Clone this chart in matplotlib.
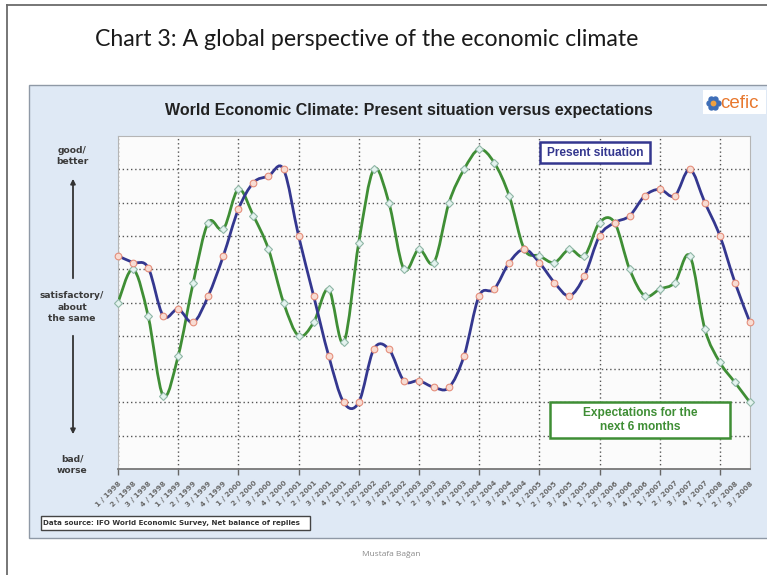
import matplotlib
matplotlib.use('Agg')
import matplotlib.pyplot as plt
import numpy as np
from matplotlib.path import Path
from matplotlib.patches import PathPatch, Rectangle, FancyArrowPatch
from matplotlib.lines import Line2D

W, H = 767, 575

# ---------------- data ----------------
years = [1998, 1999, 2000, 2001, 2002, 2003, 2004, 2005, 2006, 2007, 2008]
quarters = [1, 2, 3, 4]
quarter_labels = [f"{q} / {y}" for y in years for q in quarters][:43]

present_situation = [6.4, 6.2, 6.05, 4.6, 4.8, 4.4, 5.2, 6.4, 7.8, 8.6, 8.8, 9.0,
                     7.0, 5.2, 3.4, 2.0, 2.0, 3.6, 3.6, 2.65, 2.65, 2.45, 2.45,
                     3.4, 5.2, 5.4, 6.2, 6.6, 6.2, 5.6, 5.2, 5.8, 7.0, 7.4, 7.6,
                     8.2, 8.4, 8.2, 9.0, 8.0, 7.0, 5.6, 4.4]
expectations = [5.0, 6.0, 4.6, 2.2, 3.4, 5.6, 7.4, 7.2, 8.4, 7.6, 6.6, 5.0,
                4.0, 4.4, 5.4, 3.8, 6.8, 9.0, 8.0, 6.0, 6.6, 6.2, 8.0, 9.0,
                9.6, 9.2, 8.2, 6.6, 6.4, 6.2, 6.6, 6.4, 7.4, 7.4, 6.0, 5.2,
                5.4, 5.6, 6.4, 4.2, 3.2, 2.6, 2.0]

title_text = "Chart 3: A global perspective of the economic climate"
chart_title = "World Economic Climate: Present situation versus expectations"
legend_present = "Present situation"
legend_expect = "Expectations for the\nnext 6 months"
source_text = "Data source: IFO World Economic Survey, Net balance of replies"
author_text = "Mustafa Bağan"

# ---------------- helpers ----------------
def fx(x):
    return x / W

def fy(y):
    return 1 - y / H

def smooth_path(xs, ys):
    P = np.column_stack([xs, ys]).astype(float)
    n = len(P)
    verts = [P[0]]
    codes = [Path.MOVETO]
    for i in range(n - 1):
        p0 = P[i - 1] if i > 0 else P[i]
        p1 = P[i]
        p2 = P[i + 1]
        p3 = P[i + 2] if i + 2 < n else P[i + 1]
        c1 = p1 + (p2 - p0) / 6.0
        c2 = p2 - (p3 - p1) / 6.0
        verts += [c1, c2, p2]
        codes += [Path.CURVE4] * 3
    return Path(verts, codes)

# ---------------- figure ----------------
fig = plt.figure(figsize=(W / 100, H / 100), dpi=100)
fig.patch.set_facecolor('white')

# page border
fig.add_artist(Line2D([fx(7), fx(7)], [fy(5), fy(575)], color='#6b6b6b', lw=1.3, zorder=-6))
fig.add_artist(Line2D([fx(7), fx(767)], [fy(5), fy(5)], color='#6b6b6b', lw=1.3, zorder=-6))

# main title
fig.text(fx(367), fy(40), title_text, ha='center', va='center',
         fontsize=16.7, family='Lato', color='#1a1a1a')

# panel
fig.add_artist(Rectangle((fx(29), fy(538)), fx(770) - fx(29), fy(85) - fy(538),
                         facecolor='#dfe9f5', edgecolor='#8f99a6', lw=1.0, zorder=-5))

# chart title
fig.text(fx(409), fy(110), chart_title, ha='center', va='center',
         fontsize=11.5, fontweight='bold', family='Liberation Sans', color='#222222')

# logo
fig.add_artist(Rectangle((fx(703), fy(114)), fx(766) - fx(703), fy(90) - fy(114),
                         facecolor='white', edgecolor='none', zorder=-4))
ang = np.linspace(0, 2 * np.pi, 7)[:-1]
fig.add_artist(Line2D(fx(713) + np.cos(ang) * 4.5 / W, fy(103) + np.sin(ang) * 4.5 / H,
                      ls='none', marker='o', markersize=4.6, color='#3f6fb8', mec='none'))
fig.add_artist(Line2D([fx(713)], [fy(103)], ls='none', marker='o', markersize=4.2,
                      color='#f0a040', mec='none'))
fig.text(fx(720), fy(103), "cefic", ha='left', va='center', fontsize=13.5,
         family='Liberation Sans', color='#e8782e')

# ---------------- axes ----------------
ax = fig.add_axes([fx(118), fy(469), fx(750) - fx(118), fy(136) - fy(469)])
ax.set_facecolor('#fbfbfb')
n = len(present_situation)
x = np.arange(n)
ax.set_xlim(0, n - 1)
ax.set_ylim(0, 10)

ax.xaxis.remove_overlapping_locs = False
ax.set_yticks(range(1, 10))
ax.tick_params(axis='y', length=0, labelleft=False)
ax.set_xticks(x)
ax.set_xticklabels(quarter_labels, rotation=45, ha='right', va='top',
                   rotation_mode='anchor', fontsize=5.2, fontweight='bold',
                   color='#6a6a6a', family='DejaVu Sans')
ax.tick_params(axis='x', which='major', length=0, pad=8)
ax.set_xticks(np.arange(0, n, 4), minor=True)
ax.tick_params(axis='x', which='minor', length=4, width=1, color='#666666', direction='out')
ax.grid(axis='y', which='major', color='#555555', lw=1.0, linestyle=(0, (1, 2)))
ax.grid(axis='x', which='minor', color='#555555', lw=1.0, linestyle=(0, (1, 2)))
ax.set_axisbelow(True)
for s in ['top', 'right', 'left']:
    ax.spines[s].set_color('#b5b5b5')
ax.spines['bottom'].set_color('#777777')
ax.spines['bottom'].set_linewidth(1.3)

blue = '#34378f'
green = '#3f8e35'
ax.add_patch(PathPatch(smooth_path(x, expectations), facecolor='none',
                       edgecolor=green, lw=2.0, zorder=3, capstyle='round'))
ax.add_patch(PathPatch(smooth_path(x, present_situation), facecolor='none',
                       edgecolor=blue, lw=2.0, zorder=4, capstyle='round'))
ax.plot(x, expectations, ls='none', marker='D', markersize=4.2,
        mfc='#e4f3ef', mec='#8fb6a6', mew=0.8, zorder=5, clip_on=False)
ax.plot(x, present_situation, ls='none', marker='o', markersize=4.8,
        mfc='#f8dcd3', mec='#e58f7c', mew=0.8, zorder=6, clip_on=False)

# legend boxes
fig.add_artist(Rectangle((fx(540), fy(163)), fx(650) - fx(540), fy(142) - fy(163),
                         facecolor='white', edgecolor=blue, lw=1.8, zorder=10))
fig.text(fx(595), fy(152.5), legend_present, ha='center', va='center', fontsize=8.6,
         fontweight='bold', family='Liberation Sans', color=blue, zorder=11)
fig.add_artist(Rectangle((fx(550), fy(438)), fx(730) - fx(550), fy(402) - fy(438),
                         facecolor='white', edgecolor=green, lw=1.8, zorder=10))
fig.text(fx(640), fy(420), legend_expect, ha='center', va='center', fontsize=8.6,
         fontweight='bold', family='Liberation Sans', color=green, zorder=11,
         linespacing=1.25)

# left-side labels
lab_kw = dict(ha='center', va='center', fontsize=6.6, fontweight='bold',
              family='DejaVu Sans', color='#3a3a3a', linespacing=1.3)
fig.text(fx(72), fy(156), "good/\nbetter", **lab_kw)
fig.text(fx(72), fy(307), "satisfactory/\nabout\nthe same", **lab_kw)
fig.text(fx(72), fy(465), "bad/\nworse", **lab_kw)
fig.add_artist(FancyArrowPatch((fx(73), fy(281)), (fx(73), fy(176)),
                               transform=fig.transFigure, arrowstyle='-|>',
                               mutation_scale=7, lw=1.3, color='#333333'))
fig.add_artist(FancyArrowPatch((fx(73), fy(333)), (fx(73), fy(437)),
                               transform=fig.transFigure, arrowstyle='-|>',
                               mutation_scale=7, lw=1.3, color='#333333'))

# source box
fig.add_artist(Rectangle((fx(41), fy(530)), fx(310) - fx(41), fy(516) - fy(530),
                         facecolor='white', edgecolor='#444444', lw=1.0))
fig.text(fx(43), fy(523), source_text, ha='left', va='center', fontsize=5.1,
         fontweight='bold', family='DejaVu Sans', color='#333333')

# author
fig.text(fx(391), fy(554), author_text, ha='center', va='center', fontsize=6,
         family='Open Sans', color='#8a8a8a')

fig.savefig('out.png', dpi=100, facecolor='white')
